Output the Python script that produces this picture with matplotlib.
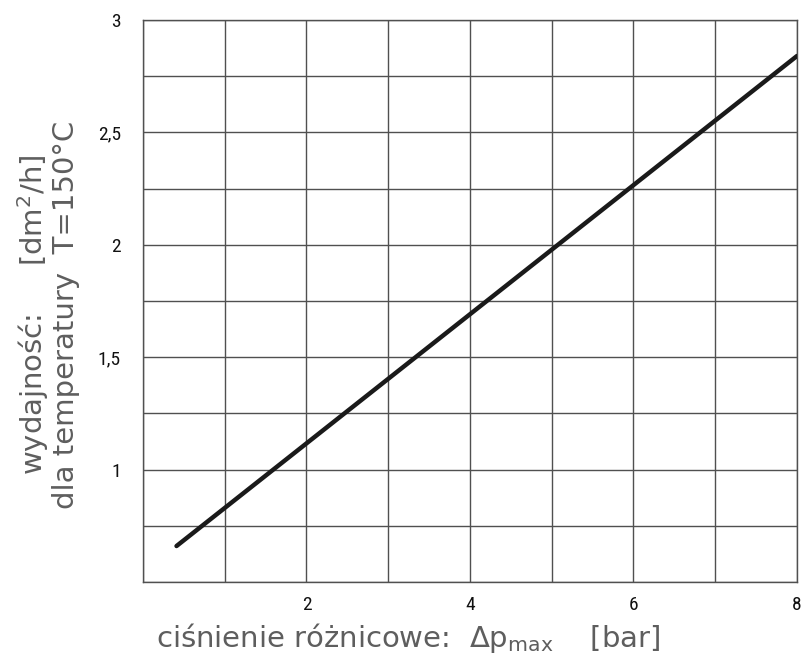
import matplotlib
matplotlib.use("Agg")
import matplotlib.pyplot as plt
import numpy as np

# data
dp = [0.41, 8.0]
flow = [0.66, 2.84]
x_ticks = [2, 4, 6, 8]
y_ticks = [1, 1.5, 2, 2.5, 3]
y_tick_labels = ["1", "1,5", "2", "2,5", "3"]

TEXT_COLOR = "#5e5e5e"
GRID_COLOR = "#505050"
W, H = 803, 657

plt.rcParams["font.family"] = ["DejaVu Sans"]

fig = plt.figure(figsize=(W / 100, H / 100), dpi=100)
ax = fig.add_axes([143 / W, 1 - 582 / H, 654 / W, 562 / H])

ax.set_xlim(0, 8)
ax.set_ylim(0.5, 3)
ax.set_xticks(np.arange(0, 8.01, 1), minor=True)
ax.set_yticks(np.arange(0.5, 3.01, 0.25), minor=True)
ax.set_xticks(x_ticks)
ax.set_yticks(y_ticks)
ax.set_yticklabels(y_tick_labels)
ax.grid(True, which="both", color=GRID_COLOR, linewidth=1.0)
ax.tick_params(which="both", length=0)
ax.tick_params(axis="x", pad=10)
ax.tick_params(axis="y", pad=16)
for lab in ax.get_xticklabels() + ax.get_yticklabels():
    lab.set_family(["Liberation Sans Narrow", "Roboto Condensed", "DejaVu Sans"])
    lab.set_fontsize(14)
    lab.set_color("#111111")
for s in ax.spines.values():
    s.set_color(GRID_COLOR)
    s.set_linewidth(1.0)

ax.plot(dp, flow, color="#1a1a1a", linewidth=3.2, solid_capstyle="round", zorder=3)


def ftext(x, y, s, size, **kw):
    fig.text(x / W, 1 - y / H, s, fontsize=size, color=TEXT_COLOR, **kw)


# x axis title
ftext(408, 647, "ciśnienie różnicowe:  Δp$_{\\mathregular{max}}$    [bar]", 21,
      ha="center", va="baseline")

# y axis title, two rotated lines
rot = dict(rotation=90, rotation_mode="anchor", ha="center", va="center")
ftext(33, 315, "wydajność:     [dm$^{\\mathregular{2}}$/h]", 21, **rot)
ftext(66, 315, "dla temperatury  T=150°C", 21, **rot)

fig.savefig("out.png", dpi=100)
